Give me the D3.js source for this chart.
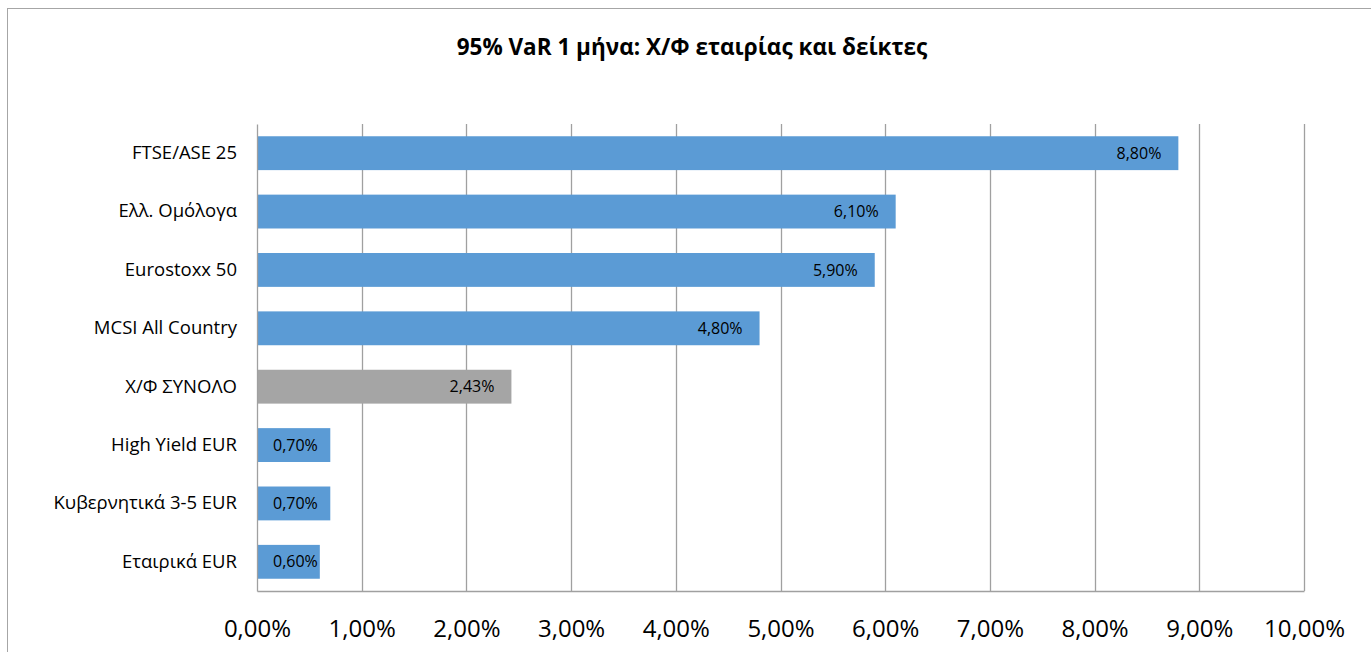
<!DOCTYPE html>
<html>
<head>
<meta charset="utf-8">
<script src="https://cdn.jsdelivr.net/npm/d3@7"></script>
<style>
  body { margin: 0; background: #fff; }
  text { font-family: "Open Sans", "Noto Sans", sans-serif; fill: #000; }
</style>
</head>
<body>
<div id="chart"></div>
<script>
// data
var categories = ["FTSE/ASE 25", "Ελλ. Ομόλογα", "Eurostoxx 50", "MCSI All Country",
                  "Χ/Φ ΣΥΝΟΛΟ", "High Yield EUR", "Κυβερνητικά 3-5 EUR", "Εταιρικά EUR"];
var values = [0.088, 0.061, 0.059, 0.048, 0.0243, 0.007, 0.007, 0.006];
var valueLabels = ["8,80%", "6,10%", "5,90%", "4,80%", "2,43%", "0,70%", "0,70%", "0,60%"];
var tickValues = [0, 0.01, 0.02, 0.03, 0.04, 0.05, 0.06, 0.07, 0.08, 0.09, 0.10];
var tickLabels = ["0,00%", "1,00%", "2,00%", "3,00%", "4,00%", "5,00%", "6,00%", "7,00%", "8,00%", "9,00%", "10,00%"];
var title = "95% VaR 1 μήνα: Χ/Φ εταιρίας και δείκτες";

var W = 1371, H = 652;
var margin = {top: 124, right: 67, bottom: 61, left: 257},
  width = W - margin.left - margin.right,
  height = H - margin.top - margin.bottom;

var root = d3.select("#chart").append("svg")
  .attr("width", W).attr("height", H);

// chart frame
root.append("rect")
  .attr("x", 7.5).attr("y", 8.5)
  .attr("width", W).attr("height", H)
  .attr("fill", "none").attr("stroke", "#a6a6a6").attr("stroke-width", 1);

root.append("text")
  .attr("x", 692).attr("y", 55)
  .attr("text-anchor", "middle")
  .style("font-size", "22.5px").style("font-weight", "bold")
  .text(title);

var svg = root.append("g")
  .attr("transform", "translate(" + margin.left + "," + margin.top + ")");

var x = d3.scaleLinear().domain([0, 0.10]).range([0, width]);
var y = d3.scaleBand().domain(categories).range([0, height]).paddingInner(0.42).paddingOuter(0.21);

// vertical gridlines
svg.selectAll(".grid")
  .data(tickValues.slice(1))
  .enter().append("line")
    .attr("x1", function(d) { return Math.round(x(d)) + 0.5; })
    .attr("x2", function(d) { return Math.round(x(d)) + 0.5; })
    .attr("y1", 0).attr("y2", height)
    .attr("stroke", "#a0a0a0").attr("stroke-width", 1.3);

// bars
svg.selectAll(".bar")
  .data(categories)
  .enter().append("rect")
    .attr("x", x(0))
    .attr("y", function(d) { return y(d); })
    .attr("width", function(d, i) { return x(values[i]) - x(0); })
    .attr("height", y.bandwidth())
    .attr("fill", function(d) { return d === "Χ/Φ ΣΥΝΟΛΟ" ? "#a5a5a5" : "#5b9bd5"; });

// value labels, inside end (kept from spilling past the bar start)
svg.selectAll(".lbl")
  .data(categories)
  .enter().append("text")
    .attr("y", function(d) { return y(d) + y.bandwidth() / 2; })
    .attr("dy", "0.35em")
    .attr("text-anchor", "end")
    .style("font-size", "16px")
    .text(function(d, i) { return valueLabels[i]; })
    .attr("x", function(d, i) {
      var w = this.getComputedTextLength();
      return Math.max(x(values[i]) - 17, x(0) + 16 + w);
    });

// y axis
var yAxis = svg.append("g")
  .call(d3.axisLeft(y).tickSize(0).tickPadding(20));
yAxis.select(".domain").attr("stroke", "#a0a0a0").attr("stroke-width", 1.3);
yAxis.selectAll("text").style("font-size", "18.5px").attr("fill", "#000");

// x axis
var xAxis = svg.append("g")
  .attr("transform", "translate(0," + height + ")")
  .call(d3.axisBottom(x).tickValues(tickValues).tickSize(0).tickPadding(29)
    .tickFormat(function(d, i) { return tickLabels[i]; }));
xAxis.select(".domain").attr("stroke", "#a0a0a0").attr("stroke-width", 1.3);
xAxis.selectAll("text").style("font-size", "24px").attr("fill", "#000");
</script>
</body>
</html>
